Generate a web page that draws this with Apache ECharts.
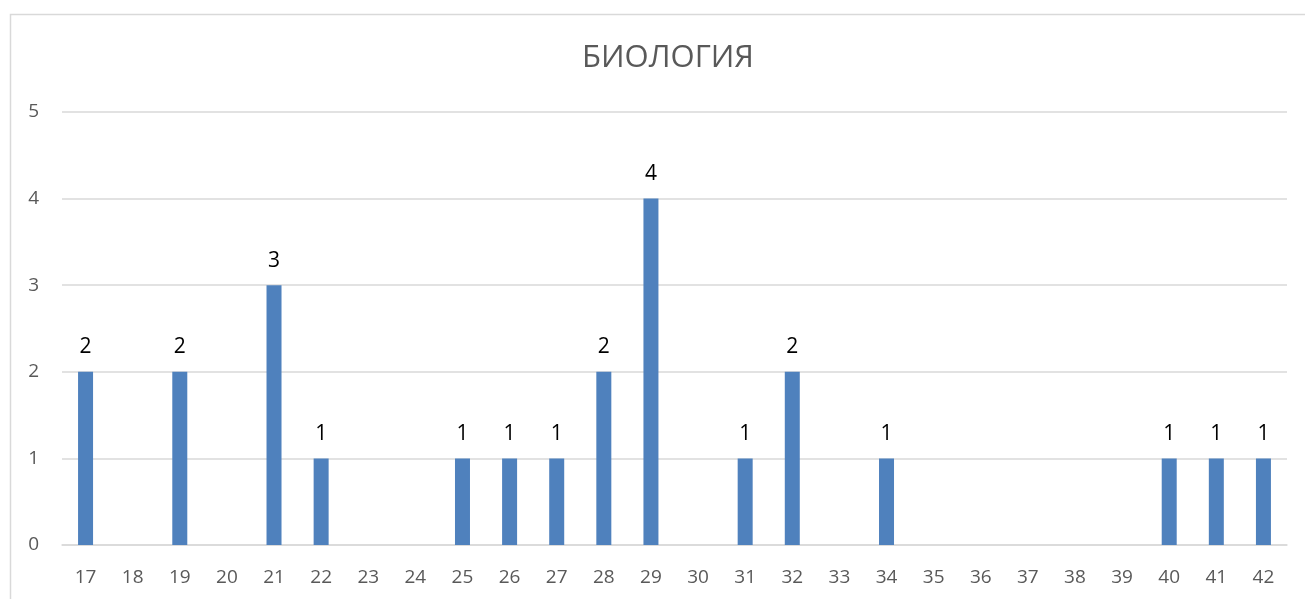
<!DOCTYPE html>
<html>
<head>
<meta charset="utf-8">
<style>
  html, body { margin: 0; padding: 0; background: #fff; }
  #chart { width: 1305px; height: 599px; }
</style>
<script src="https://cdn.jsdelivr.net/npm/echarts@6/dist/echarts.min.js"></script>
</head>
<body>
<div id="chart"></div>
<script>
// категории (баллы) и количество учеников
const categories = ['17', '18', '19', '20', '21', '22', '23', '24', '25', '26', '27', '28', '29',
  '30', '31', '32', '33', '34', '35', '36', '37', '38', '39', '40', '41', '42'];
const counts = [2, 0, 2, 0, 3, 1, 0, 0, 1, 1, 1, 2, 4, 0, 1, 2, 0, 1, 0, 0, 0, 0, 0, 1, 1, 1];
const yTicks = [0, 1, 2, 3, 4, 5];

const fontFamily = '"Open Sans", "Noto Sans", sans-serif';
const myChart = echarts.init(document.getElementById('chart'));

const option = {
  animation: false,
  backgroundColor: '#fff',
  title: {
    text: 'БИОЛОГИЯ',
    left: 663,
    top: 38,
    textAlign: 'center',
    textStyle: { fontFamily, fontSize: 31, fontWeight: 'normal', color: '#595959' }
  },
  graphic: [{
    type: 'rect',
    shape: { x: 10.5, y: 14.5, width: 1400, height: 700 },
    style: { fill: 'none', stroke: '#d9d9d9', lineWidth: 1.5 },
    silent: true
  }],
  grid: { left: 62, right: 18, top: 112, bottom: 54 },
  xAxis: {
    type: 'category',
    data: categories,
    axisTick: { show: false },
    axisLine: { lineStyle: { color: '#d9d9d9', width: 1.5 } },
    axisLabel: { fontFamily, fontSize: 19, color: '#595959', margin: 23 }
  },
  yAxis: {
    type: 'value',
    min: yTicks[0],
    max: yTicks[yTicks.length - 1],
    interval: 1,
    axisLine: { show: false },
    axisTick: { show: false },
    splitLine: { lineStyle: { color: '#d9d9d9', width: 1.5 } },
    axisLabel: { fontFamily, fontSize: 19, color: '#595959', margin: 23 }
  },
  series: [{
    type: 'bar',
    data: counts,
    barWidth: 15,
    itemStyle: { color: '#4f81bd' },
    label: {
      show: true,
      position: 'top',
      distance: 14,
      fontFamily,
      fontSize: 21,
      color: '#000',
      formatter: p => (p.value ? p.value : '')
    }
  }]
};

myChart.setOption(option);
</script>
</body>
</html>
